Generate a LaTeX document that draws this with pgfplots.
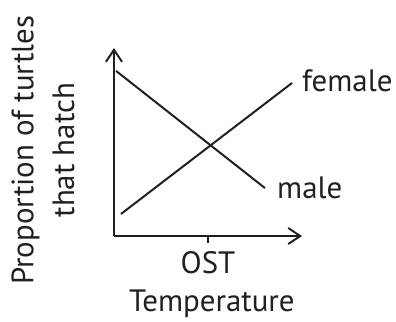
\documentclass[border=0pt]{standalone}
\usepackage{fontspec}
\setmainfont{PT Sans}
\usepackage{pgfplots}
\pgfplotsset{compat=1.18}
\usetikzlibrary{arrows.meta}
\definecolor{ink}{HTML}{231F20}

\begin{document}
\begin{tikzpicture}
% page: 396x322 bp, axis corner at (114,236) px from top-left
\path[use as bounding box] (-114bp,-86bp) rectangle (282bp,236bp);
\begin{axis}[
    name=ax,
    scale only axis,
    width=188bp, height=188bp,
    xmin=0, xmax=10, ymin=0, ymax=10,
    axis x line*=bottom,
    axis y line*=left,
    axis line style={ink, line width=2bp, -{Straight Barb[length=12bp,width=16bp,line width=2bp]}},
    xtick={5}, xticklabels={OST},
    ytick=\empty,
    tick align=outside,
    major tick length=7bp,
    every tick/.style={ink, line width=1.6bp},
    xticklabel style={anchor=base, yshift=-30bp},
    font=\fontsize{31}{41}\selectfont,
    text=ink,
    xlabel={Temperature},
    xlabel style={at={(axis description cs:0.521,-0.404)}, anchor=base},
    ylabel={Proportion of turtles\\that hatch},
    ylabel style={align=center, at={(axis description cs:-0.378,0.457)}, anchor=center},
    clip=false,
]
% male: falls with temperature
\addplot[ink, line width=2bp] coordinates {(0.11,8.78) (8.03,2.55)};
% female: rises with temperature
\addplot[ink, line width=2bp] coordinates {(0.37,1.17) (9.47,8.14)};
\node[anchor=base west, inner sep=0pt, text=ink] at (axis cs:10.0,7.66) {female};
\node[anchor=base west, inner sep=0pt, text=ink] at (axis cs:8.67,2.02) {male};
\end{axis}
\end{tikzpicture}
\end{document}
